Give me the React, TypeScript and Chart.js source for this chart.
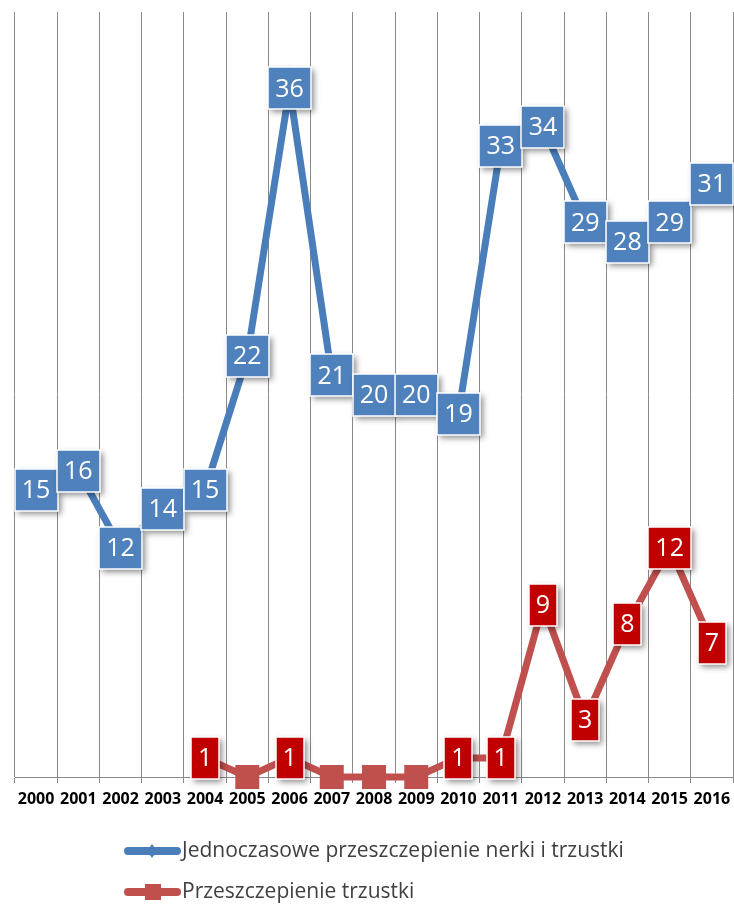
import React, { useEffect, useRef } from 'react';
import { Chart, registerables } from 'chart.js';

Chart.register(...registerables);

const years = ['2000', '2001', '2002', '2003', '2004', '2005', '2006', '2007', '2008', '2009', '2010', '2011', '2012', '2013', '2014', '2015', '2016'];
const kidneyPancreas = [15, 16, 12, 14, 15, 22, 36, 21, 20, 20, 19, 33, 34, 29, 28, 29, 31];
const pancreasOnly = [null, null, null, null, 1, 0, 1, 0, 0, 0, 1, 1, 9, 3, 8, 12, 7];
const seriesNames = ['Jednoczasowe przeszczepienie nerki i trzustki', 'Przeszczepienie trzustki'];

const BLUE_LINE = '#4A7EBB';
const BLUE_BOX = '#4F81BD';
const RED_LINE = '#C0504D';
const RED_BOX = '#C00000';
const boxColors = [BLUE_BOX, RED_BOX];

const boxLabels = {
  id: 'boxLabels',
  afterDatasetsDraw(chart: any) {
    const ctx = chart.ctx;
    chart.data.datasets.forEach((ds: any, di: number) => {
      const meta = chart.getDatasetMeta(di);
      meta.data.forEach((pt: any, i: number) => {
        const v = ds.data[i];
        if (v == null || v === 0) return;
        const txt = String(v);
        ctx.save();
        ctx.font = '25px "Open Sans"';
        const tw = ctx.measureText(txt).width;
        const w = Math.round(tw + 14);
        const h = 42;
        const x = Math.round(pt.x - w / 2);
        const y = Math.round(pt.y - h / 2);
        ctx.shadowColor = 'rgba(0,0,0,0.45)';
        ctx.shadowBlur = 6;
        ctx.shadowOffsetX = 3;
        ctx.shadowOffsetY = 3;
        ctx.fillStyle = boxColors[di];
        ctx.fillRect(x, y, w, h);
        ctx.shadowColor = 'transparent';
        ctx.strokeStyle = '#ffffff';
        ctx.lineWidth = 1.5;
        ctx.strokeRect(x, y, w, h);
        ctx.fillStyle = '#ffffff';
        ctx.textAlign = 'center';
        ctx.textBaseline = 'middle';
        ctx.fillText(txt, pt.x, pt.y + 1);
        ctx.restore();
      });
    });
  },
};

const customLegend = {
  id: 'customLegend',
  afterDraw(chart: any) {
    const ctx = chart.ctx;
    const rows = [851, 892];
    chart.data.datasets.forEach((ds: any, di: number) => {
      const y = rows[di];
      ctx.save();
      ctx.strokeStyle = ds.borderColor;
      ctx.lineWidth = 8;
      ctx.lineCap = 'round';
      ctx.beginPath();
      ctx.moveTo(128, y);
      ctx.lineTo(177, y);
      ctx.stroke();
      ctx.fillStyle = ds.borderColor;
      if (di === 0) {
        ctx.beginPath();
        ctx.moveTo(152, y - 7);
        ctx.lineTo(157, y);
        ctx.lineTo(152, y + 7);
        ctx.lineTo(147, y);
        ctx.closePath();
        ctx.fill();
      } else {
        ctx.fillRect(145, y - 8, 16, 16);
      }
      ctx.font = '21px "Open Sans"';
      ctx.fillStyle = '#404040';
      ctx.textAlign = 'left';
      ctx.textBaseline = 'middle';
      ctx.fillText(ds.label, 182, y);
      ctx.restore();
    });
  },
};

export default function App() {
  const ref = useRef<HTMLCanvasElement>(null);
  useEffect(() => {
    document.body.style.margin = '0';
    const chart = new Chart(ref.current as HTMLCanvasElement, {
      type: 'line',
      data: {
        labels: years,
        datasets: [
          {
            label: seriesNames[0],
            data: kidneyPancreas,
            borderColor: BLUE_LINE,
            backgroundColor: BLUE_LINE,
            borderWidth: 7,
            pointStyle: 'rectRot',
            pointRadius: 7,
            tension: 0,
            clip: false,
          },
          {
            label: seriesNames[1],
            data: pancreasOnly as any,
            borderColor: RED_LINE,
            backgroundColor: RED_LINE,
            borderWidth: 7,
            pointStyle: 'rect',
            pointRadius: 12,
            tension: 0,
            clip: false,
          },
        ],
      },
      options: {
        animation: false,
        responsive: false,
        layout: { autoPadding: false, padding: { left: 15, right: 1, top: 12, bottom: 0 } },
        plugins: { legend: { display: false }, tooltip: { enabled: false } },
        scales: {
          x: {
            offset: true,
            grid: { offset: true, color: '#8a8a8a', lineWidth: 1, tickLength: 6, drawTicks: true },
            border: { color: '#8a8a8a' },
            ticks: { color: '#000', font: { family: 'Open Sans', weight: 'bold', size: 16 }, padding: 7, maxRotation: 0, autoSkip: false },
            afterFit: (scale: any) => {
              scale.height = 127;
              scale.paddingLeft = 0;
              scale.paddingRight = 0;
            },
          },
          y: {
            display: false,
            min: 0,
            max: 40,
          },
        },
      },
      plugins: [boxLabels, customLegend],
    });
    return () => chart.destroy();
  }, []);
  return (
    <div style={{ width: 734, height: 904 }}>
      <canvas ref={ref} width={734} height={904} />
    </div>
  );
}
